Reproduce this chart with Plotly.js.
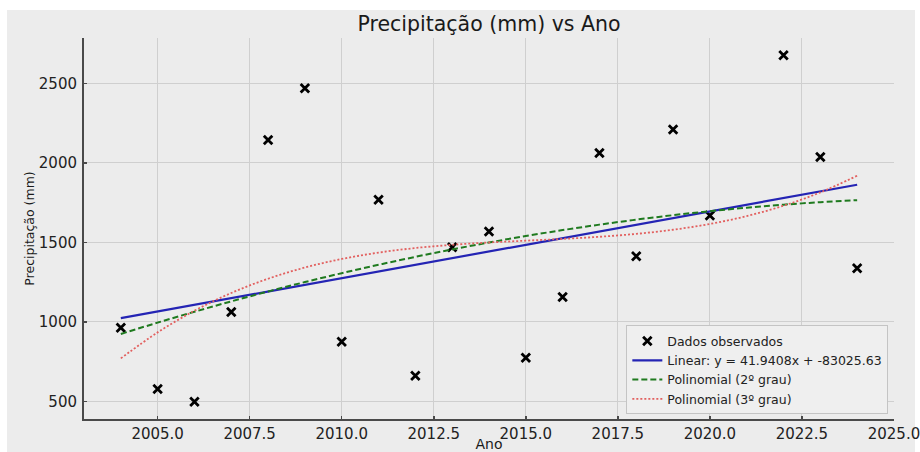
<!DOCTYPE html>
<html>
<head>
<meta charset="utf-8">
<script src="https://cdn.plot.ly/plotly-3.0.1.min.js"></script>
<style>
  html, body { margin: 0; padding: 0; background: #ffffff; }
  #chart { width: 920px; height: 452px; }
</style>
</head>
<body>
<div id="chart"></div>
<script>
// ---- Data ----
const anos = [2004, 2005, 2006, 2007, 2008, 2009, 2010, 2011, 2012, 2013, 2014,
              2015, 2016, 2017, 2018, 2019, 2020, 2021, 2022, 2023, 2024];
const precipitacao = [963, 578, 498, 1063, 2144, 2469, 876, 1768, 662, 1469, 1568,
                      775, 1157, 2062, 1413, 2210, 1669, 906, 2676, 2037, 1338];

// Linear fit coefficients as printed in the legend
const linSlope = 41.9408;
const linIntercept = -83025.63;

const xTickVals = [2005, 2007.5, 2010, 2012.5, 2015, 2017.5, 2020, 2022.5, 2025];
const xTickText = ["2005.0", "2007.5", "2010.0", "2012.5", "2015.0", "2017.5", "2020.0", "2022.5", "2025.0"];
const yTickVals = [500, 1000, 1500, 2000, 2500];
const yTickText = ["500", "1000", "1500", "2000", "2500"];

const legendNames = [
  "Dados observados",
  "Linear: y = " + linSlope.toFixed(4) + "x + " + linIntercept.toFixed(2),
  "Polinomial (2º grau)",
  "Polinomial (3º grau)"
];

// ---- Least-squares polynomial fit (same method as numpy.polyfit) ----
function polyfit(xs, ys, deg) {
  const xc = xs.reduce((a, b) => a + b, 0) / xs.length;
  const n = deg + 1;
  const A = [];
  for (let i = 0; i < n; i++) { A.push(new Array(n + 1).fill(0)); }
  for (let k = 0; k < xs.length; k++) {
    const t = xs[k] - xc;
    for (let i = 0; i < n; i++) {
      for (let j = 0; j < n; j++) A[i][j] += Math.pow(t, i + j);
      A[i][n] += ys[k] * Math.pow(t, i);
    }
  }
  for (let i = 0; i < n; i++) {
    let p = i;
    for (let r = i + 1; r < n; r++) if (Math.abs(A[r][i]) > Math.abs(A[p][i])) p = r;
    [A[i], A[p]] = [A[p], A[i]];
    for (let r = 0; r < n; r++) {
      if (r === i) continue;
      const f = A[r][i] / A[i][i];
      for (let c = i; c <= n; c++) A[r][c] -= f * A[i][c];
    }
  }
  const coef = A.map((row, i) => row[n] / row[i]);
  return x => coef.reduce((s, c, i) => s + c * Math.pow(x - xc, i), 0);
}

const p2 = polyfit(anos, precipitacao, 2);
const p3 = polyfit(anos, precipitacao, 3);

const traces = [
  {
    x: anos, y: precipitacao, mode: "markers", type: "scatter", name: legendNames[0],
    marker: { symbol: "x-thin", size: 8.5, color: "#000000", line: { color: "#000000", width: 2.8 } }
  },
  {
    x: anos, y: anos.map(a => linSlope * a + linIntercept), mode: "lines", type: "scatter",
    name: legendNames[1], line: { color: "#2424b4", width: 2.2 }
  },
  {
    x: anos, y: anos.map(p2), mode: "lines", type: "scatter", name: legendNames[2],
    line: { color: "#1f7a1f", width: 2, dash: "6px,3px", shape: "spline" }
  },
  {
    x: anos, y: anos.map(p3), mode: "lines", type: "scatter", name: legendNames[3],
    line: { color: "#e2605f", width: 1.8, dash: "2px,2px", shape: "spline" }
  }
];

const font = "DejaVu Sans, Liberation Sans, sans-serif";
const bg = "#ececec";

const layout = {
  width: 920, height: 452,
  margin: { l: 84, r: 26, t: 38, b: 33, pad: 0 },
  paper_bgcolor: "#ffffff",
  plot_bgcolor: bg,
  font: { family: font, color: "#222222" },
  showlegend: true,
  title: {
    text: "Precipitação (mm) vs Ano",
    font: { family: font, size: 20.5, color: "#1a1a1a" },
    x: 0.5, xref: "paper", xanchor: "center",
    y: 0.947, yref: "container", yanchor: "middle"
  },
  xaxis: {
    range: [2003, 2025.001],
    tickvals: xTickVals, ticktext: xTickText,
    tickfont: { family: font, size: 15, color: "#222222" },
    ticklabeloverflow: "allow",
    showline: true, linecolor: "#4a4a4a", linewidth: 2,
    ticks: "inside", ticklen: 3, tickwidth: 1.5, tickcolor: "#4a4a4a",
    showgrid: true, gridcolor: "#cfcfcf", gridwidth: 1,
    zeroline: false,
    title: { text: "Ano", font: { family: font, size: 14, color: "#1a1a1a" }, standoff: 3 }
  },
  yaxis: {
    range: [390, 2785],
    tickvals: yTickVals, ticktext: yTickText,
    tickfont: { family: font, size: 15, color: "#222222" },
    ticklabelstandoff: 2,
    showline: true, linecolor: "#4a4a4a", linewidth: 2,
    ticks: "inside", ticklen: 3, tickwidth: 1.5, tickcolor: "#4a4a4a",
    showgrid: true, gridcolor: "#cfcfcf", gridwidth: 1,
    zeroline: false,
    title: { text: "Precipitação (mm)", font: { family: font, size: 12.5, color: "#1a1a1a" }, standoff: 1 }
  },
  legend: {
    x: 0.993, xanchor: "right", y: 0.012, yanchor: "bottom",
    bgcolor: "#efefef", bordercolor: "#c4c4c4", borderwidth: 1,
    font: { family: font, size: 12.5, color: "#222222" },
    itemwidth: 30, tracegroupgap: 0
  },
  shapes: [
    {
      type: "rect", xref: "paper", yref: "paper", layer: "below",
      x0: -0.0951, x1: 1.0259, y0: -0.09, y1: 1.0735,
      fillcolor: bg, line: { width: 0 }
    }
  ]
};

Plotly.newPlot("chart", traces, layout, { displayModeBar: false, staticPlot: true });
</script>
</body>
</html>
